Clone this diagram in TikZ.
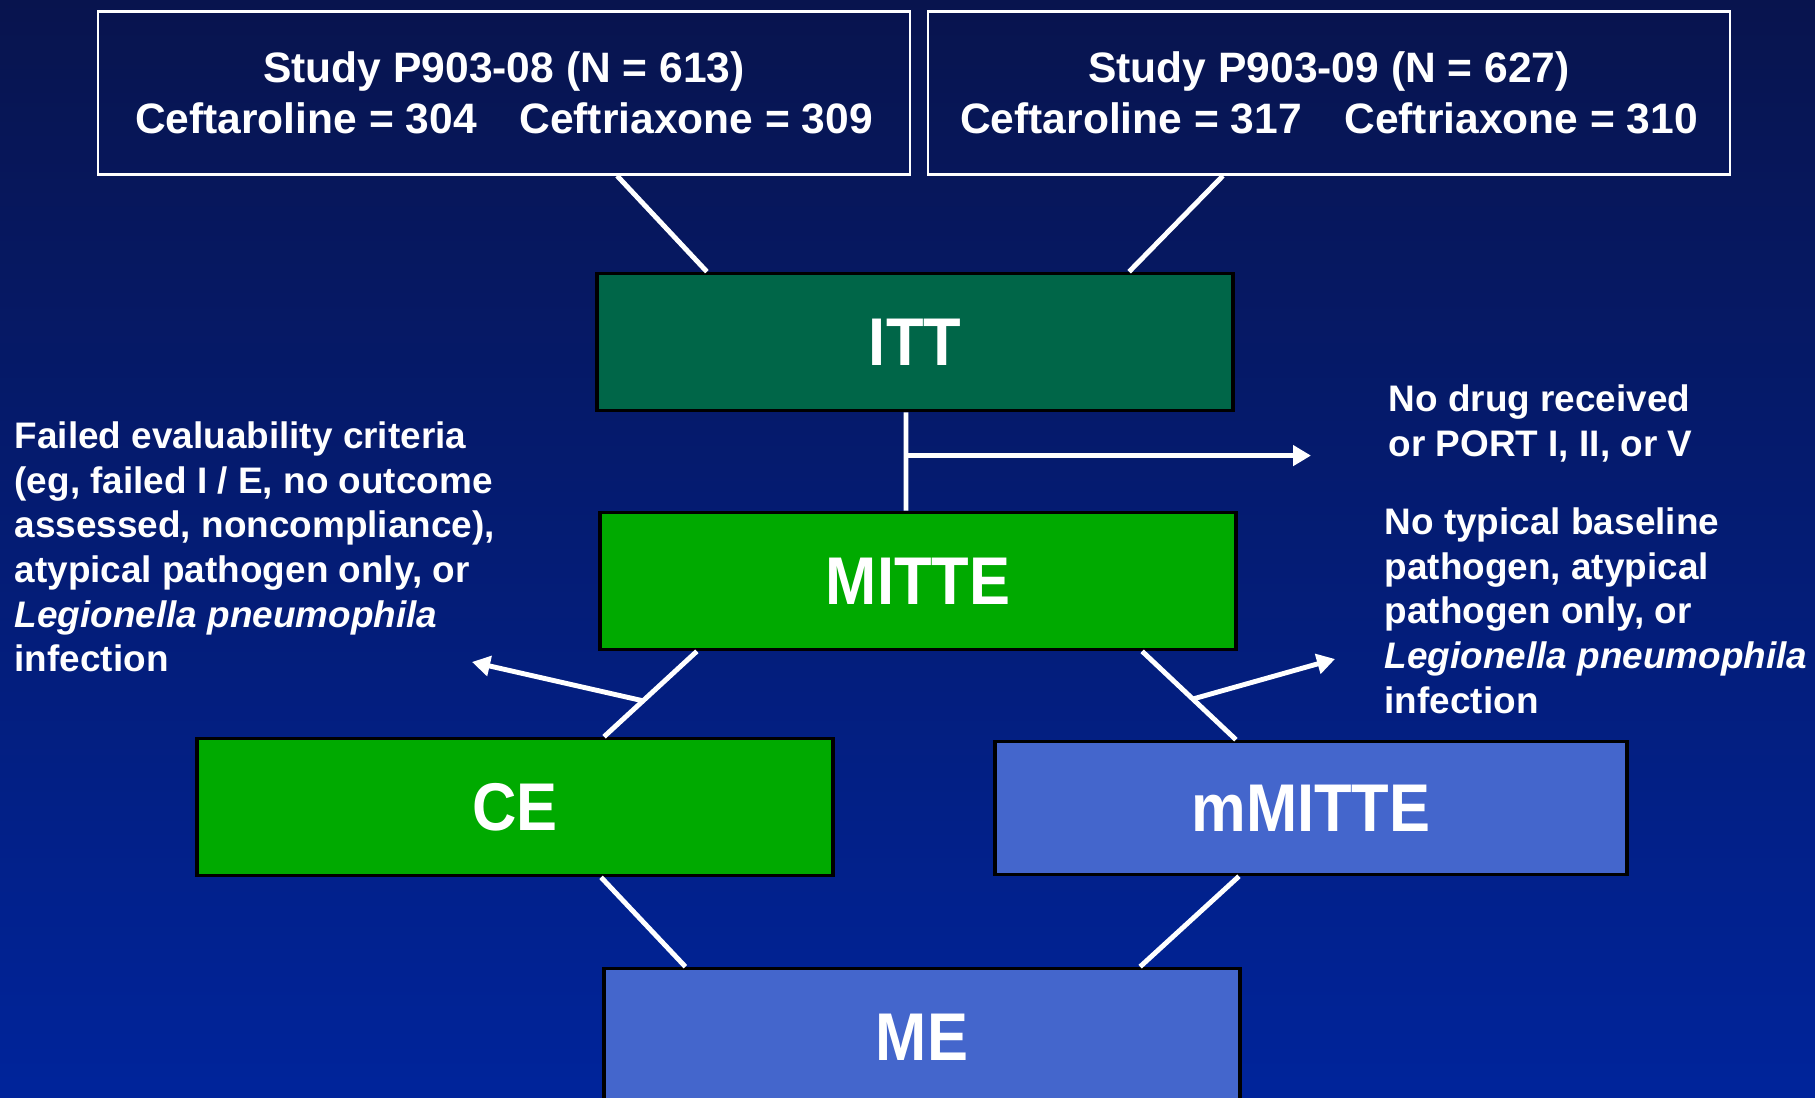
\documentclass[tikz,border=0pt]{standalone}
\usepackage{fontspec}
\setmainfont{Liberation Sans}
\newfontfamily\boxfont{Liberation Sans}[FakeStretch=0.91]
\usetikzlibrary{arrows.meta}

\definecolor{navytop}{RGB}{8,20,78}
\definecolor{navybot}{RGB}{0,36,155}
\definecolor{ittgreen}{RGB}{0,102,72}
\definecolor{brightgreen}{RGB}{0,170,0}
\definecolor{slateblue}{RGB}{68,102,204}

\begin{document}
\begin{tikzpicture}[x=0.01cm, y=-0.01cm,
    study/.style={draw=white, line width=0.7pt, minimum width=8.12cm, minimum height=1.63cm,
        align=center, text=white, font=\bfseries\fontsize{12.1}{14.5}\selectfont},
    popbox/.style={draw=black, line width=1pt, minimum width=6.36cm, minimum height=1.37cm,
        text=white, font=\boxfont\bfseries\fontsize{19.2}{22}\selectfont},
    note/.style={text=white, align=left, inner sep=0pt,
        font=\bfseries\fontsize{10.5}{12.7}\selectfont},
    link/.style={draw=white, line width=1.4pt},
    exitarrow/.style={link, -{Triangle[length=0.18cm, width=0.2cm]}}
]
    \fill[top color=navytop, bottom color=navybot] (0,0) rectangle (1815,1098);
    \useasboundingbox (0,0) rectangle (1815,1098);
    \clip (0,0) rectangle (1815,1098);

    \node[study] (p08) at (504,93) {Study P903-08 (N = 613)\\Ceftaroline = 304\quad Ceftriaxone = 309};
    \node[study, minimum width=8.02cm] (p09) at (1329,93) {Study P903-09 (N = 627)\\Ceftaroline = 317\quad Ceftriaxone = 310};

    \node[popbox, fill=ittgreen] (itt) at (915,342) {ITT};
    \node[popbox, fill=brightgreen] (mitte) at (918,581) {MITTE};
    \node[popbox, fill=brightgreen] (ce) at (515,807) {CE};
    \node[popbox, fill=slateblue, minimum width=6.32cm, minimum height=1.33cm] (mmitte) at (1311,808) {mMITTE};
    \node[popbox, fill=slateblue] (me) at (922,1037) {ME};

    \node[note, anchor=north west] (failed) at (14,421) {Failed evaluability criteria\\(eg, failed I / E, no outcome\\assessed, noncompliance),\\atypical pathogen only, or\\\textit{Legionella pneumophila}\\infection};
    \node[note, anchor=north west] (nodrug) at (1388,384) {No drug received\\or PORT I, II, or V};
    \node[note, anchor=north west] (notypical) at (1384,507) {No typical baseline\\pathogen, atypical\\pathogen only, or\\\textit{Legionella pneumophila}\\infection};

    \coordinate (drugtip) at (1311,456);
    \coordinate (failtip) at (472,662);
    \coordinate (typtip) at (1335,659);

    \draw[link] ([xshift=1.13cm]p08.south) -- ([xshift=-2.08cm]itt.north);
    \draw[link] ([xshift=-1.06cm]p09.south) -- ([xshift=2.14cm]itt.north);
    \draw[link] ([xshift=-0.09cm]itt.south) -- coordinate[pos=0.44] (ittbranch) ([xshift=-0.12cm]mitte.north);
    \draw[exitarrow] (ittbranch) -- (ittbranch -| drugtip);

    \draw[link] ([xshift=-2.21cm]mitte.south) -- coordinate[pos=0.58] (cebranch) ([xshift=0.89cm]ce.north);
    \draw[exitarrow] (cebranch) -- (failtip);
    \draw[link] ([xshift=2.24cm]mitte.south) -- coordinate[pos=0.54] (mmbranch) ([xshift=-0.75cm]mmitte.north);
    \draw[exitarrow] (mmbranch) -- (typtip);

    \draw[link] ([xshift=0.86cm]ce.south) -- ([xshift=-2.365cm]me.north);
    \draw[link] ([xshift=-0.72cm]mmitte.south) -- ([xshift=2.18cm]me.north);
\end{tikzpicture}
\end{document}
